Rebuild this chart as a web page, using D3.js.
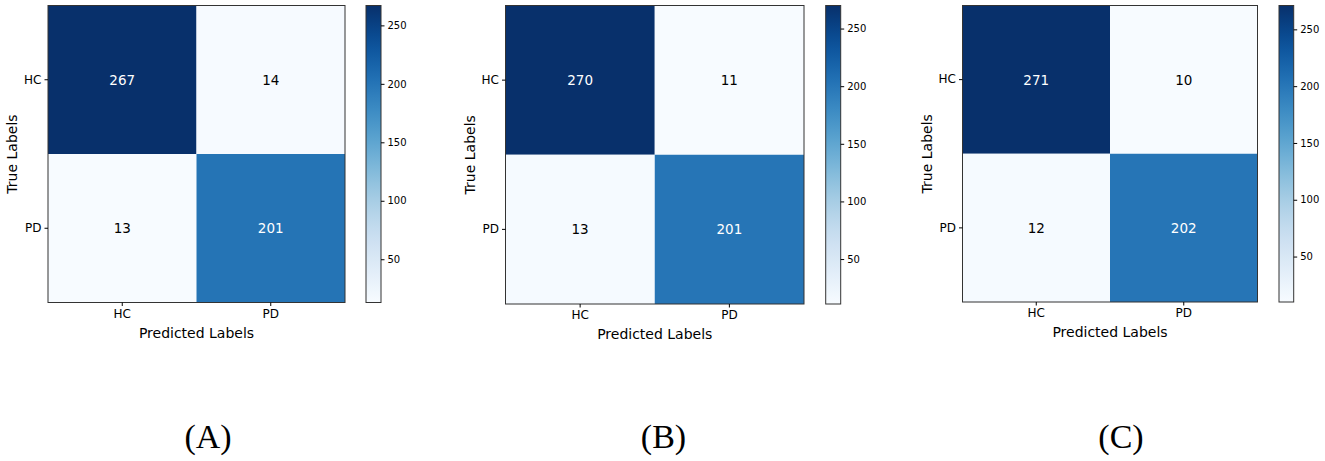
<!DOCTYPE html>
<html>
<head>
<meta charset="utf-8">
<script src="https://cdn.jsdelivr.net/npm/d3@7"></script>
<style>
  html, body { margin: 0; padding: 0; background: #fff; }
  svg { display: block; }
</style>
</head>
<body>
<svg id="chart" width="1325" height="461"></svg>
<script>
// ---- data ----
const categories = ["HC", "PD"];
const matrixA = [[267, 14], [13, 201]];
const matrixB = [[270, 11], [13, 201]];
const matrixC = [[271, 10], [12, 202]];
const panelLabels = ["(A)", "(B)", "(C)"];
const colorbarTicks = [50, 100, 150, 200, 250];
const xAxisTitle = "Predicted Labels";
const yAxisTitle = "True Labels";

// ---- layout (positions only) ----
const layouts = [
  { x0: 48,  y0: 5.5, w: 297, h: 297, cbx: 366,  cbw: 15, cx: 208 },
  { x0: 505.5, y0: 5.5, w: 298.5, h: 298.5, cbx: 825.7, cbw: 15, cx: 663.5 },
  { x0: 962.5, y0: 5.5, w: 295, h: 296.5, cbx: 1279, cbw: 14.7, cx: 1121 }
];
const matrices = [matrixA, matrixB, matrixC];

const svg = d3.select("#chart");
const font = "'DejaVu Sans', sans-serif";

matrices.forEach((m, i) => {
  const L = layouts[i];
  const flat = m.flat();
  const vmin = d3.min(flat), vmax = d3.max(flat);
  const color = d3.scaleSequential(d3.interpolateBlues).domain([vmin, vmax]);
  const thresh = (vmin + vmax) / 2;

  const x = d3.scaleBand().domain(categories).range([L.x0, L.x0 + L.w]).padding(0);
  const y = d3.scaleBand().domain(categories).range([L.y0, L.y0 + L.h]).padding(0);

  const g = svg.append("g");
  const cells = [];
  m.forEach((row, r) => row.forEach((v, c) => cells.push({ r: categories[r], c: categories[c], v })));

  g.selectAll("rect.cell").data(cells).join("rect")
    .attr("class", "cell")
    .attr("x", d => x(d.c)).attr("y", d => y(d.r))
    .attr("width", x.bandwidth()).attr("height", y.bandwidth())
    .attr("fill", d => color(d.v));

  g.selectAll("text.val").data(cells).join("text")
    .attr("class", "val")
    .attr("x", d => x(d.c) + x.bandwidth() / 2)
    .attr("y", d => y(d.r) + y.bandwidth() / 2)
    .attr("text-anchor", "middle")
    .attr("dominant-baseline", "central")
    .attr("font-family", font).attr("font-size", 13.5)
    .attr("fill", d => d.v > thresh ? "#fff" : "#000")
    .text(d => d.v);

  // frame
  g.append("rect")
    .attr("x", L.x0).attr("y", L.y0).attr("width", L.w).attr("height", L.h)
    .attr("fill", "none").attr("stroke", "#333").attr("stroke-width", 1);

  // axes
  const xAxis = d3.axisBottom(x).tickSize(3.5).tickPadding(3);
  const yAxis = d3.axisLeft(y).tickSize(3.5).tickPadding(3);
  const gx = g.append("g").attr("transform", `translate(0,${L.y0 + L.h})`).call(xAxis);
  const gy = g.append("g").attr("transform", `translate(${L.x0},0)`).call(yAxis);
  [gx, gy].forEach(a => {
    a.select(".domain").remove();
    a.selectAll("text").attr("font-family", font).attr("font-size", 12).attr("fill", "#000");
    a.selectAll("line").attr("stroke", "#000");
  });

  g.append("text")
    .attr("x", L.x0 + L.w / 2).attr("y", L.y0 + L.h + 35)
    .attr("text-anchor", "middle")
    .attr("font-family", font).attr("font-size", 14).attr("fill", "#000")
    .text(xAxisTitle);

  g.append("text")
    .attr("transform", `translate(${L.x0 - 31},${L.y0 + L.h / 2}) rotate(-90)`)
    .attr("text-anchor", "middle")
    .attr("font-family", font).attr("font-size", 14).attr("fill", "#000")
    .text(yAxisTitle);

  // colorbar
  const cbTop = L.y0, cbBot = L.y0 + L.h;
  const cbScale = d3.scaleLinear().domain([vmin, vmax]).range([cbBot, cbTop]);
  const gradId = "grad" + i;
  const grad = svg.append("defs").append("linearGradient")
    .attr("id", gradId).attr("x1", 0).attr("y1", 1).attr("x2", 0).attr("y2", 0);
  d3.range(0, 1.0001, 0.05).forEach(t => {
    grad.append("stop").attr("offset", t).attr("stop-color", d3.interpolateBlues(t));
  });
  g.append("rect")
    .attr("x", L.cbx).attr("y", cbTop).attr("width", L.cbw).attr("height", cbBot - cbTop)
    .attr("fill", `url(#${gradId})`).attr("stroke", "#333").attr("stroke-width", 1);
  const cbAxis = d3.axisRight(cbScale).tickValues(colorbarTicks).tickSize(3.5).tickPadding(3);
  const gc = g.append("g").attr("transform", `translate(${L.cbx + L.cbw},0)`).call(cbAxis);
  gc.select(".domain").remove();
  gc.selectAll("text").attr("font-family", font).attr("font-size", 10).attr("fill", "#000");
  gc.selectAll("line").attr("stroke", "#000");

  // panel label
  svg.append("text")
    .attr("x", L.cx).attr("y", 448)
    .attr("text-anchor", "middle")
    .attr("font-family", "'Liberation Serif', 'Times New Roman', serif")
    .attr("font-size", 34).attr("fill", "#000")
    .text(panelLabels[i]);
});
</script>
</body>
</html>
